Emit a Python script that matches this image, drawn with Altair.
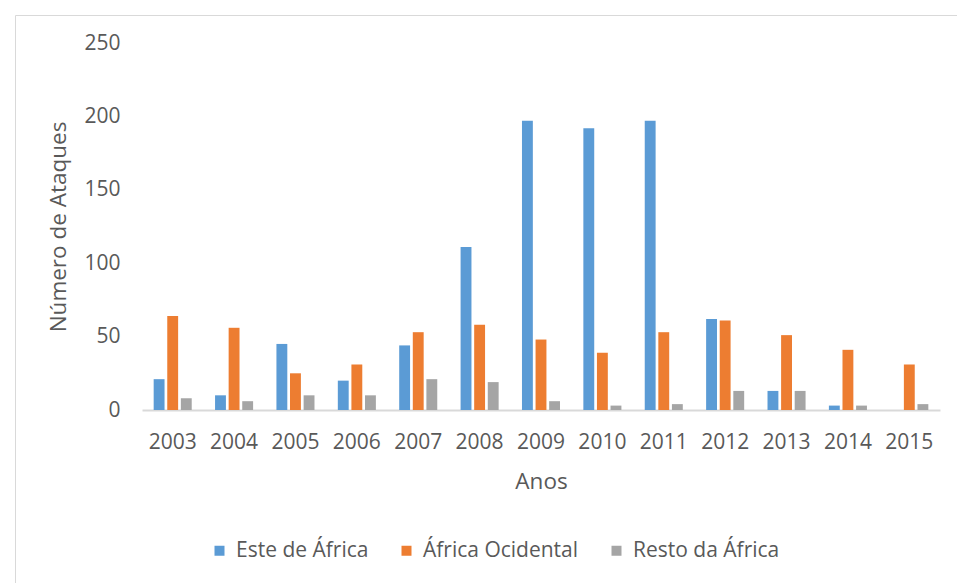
import altair as alt
import pandas as pd

years = ["2003", "2004", "2005", "2006", "2007", "2008", "2009",
         "2010", "2011", "2012", "2013", "2014", "2015"]
este_africa = [21, 10, 45, 20, 44, 111, 197, 192, 197, 62, 13, 3, 0]
africa_ocidental = [64, 56, 25, 31, 53, 58, 48, 39, 53, 61, 51, 41, 31]
resto_africa = [8, 6, 10, 10, 21, 19, 6, 3, 4, 13, 13, 3, 4]

series_names = ["Este de África", "África Ocidental", "Resto da África"]
series_colors = ["#5B9BD5", "#ED7D31", "#A5A5A5"]

rows = []
for name, values in zip(series_names, [este_africa, africa_ocidental, resto_africa]):
    for year, v in zip(years, values):
        rows.append({"Ano": year, "Região": name, "Ataques": v})
df = pd.DataFrame(rows)

FONT = "Open Sans"
TXT = "#595959"

bars = alt.Chart(df).mark_bar().encode(
    x=alt.X(
        "Ano:N",
        sort=years,
        scale=alt.Scale(paddingInner=0.38, paddingOuter=0.19),
        axis=alt.Axis(
            title="Anos",
            labelAngle=0,
            labelFontSize=21,
            labelColor=TXT,
            labelFont=FONT,
            labelPadding=21,
            ticks=False,
            tickSize=0,
            domainColor="#D9D9D9",
            domainWidth=2,
            titleFontSize=22.5,
            titleFont=FONT,
            titleColor=TXT,
            titleFontWeight="normal",
            titleBaseline="alphabetic",
            titleY=78,
        ),
    ),
    xOffset=alt.XOffset(
        "Região:N",
        sort=series_names,
        scale=alt.Scale(paddingInner=0.2, paddingOuter=0),
    ),
    y=alt.Y(
        "Ataques:Q",
        scale=alt.Scale(domain=[0, 250], nice=False),
        axis=alt.Axis(
            title="Número de Ataques",
            values=[0, 50, 100, 150, 200, 250],
            grid=False,
            domain=False,
            ticks=False,
            tickSize=0,
            labelFontSize=21,
            labelColor=TXT,
            labelFont=FONT,
            labelPadding=22,
            titleFontSize=22.5,
            titleFont=FONT,
            titleColor=TXT,
            titleFontWeight="normal",
            titleBaseline="middle",
            titleX=-84,
        ),
    ),
    color=alt.Color(
        "Região:N",
        sort=series_names,
        scale=alt.Scale(domain=series_names, range=series_colors),
        legend=alt.Legend(
            title=None,
            orient="none",
            direction="horizontal",
            columns=3,
            legendX=67,
            legendY=497,
            symbolType="square",
            symbolSize=100,
            symbolStrokeWidth=0,
            labelFontSize=21,
            labelFont=FONT,
            labelColor=TXT,
            labelOffset=6,
            columnPadding=27,
            padding=0,
        ),
    ),
)

# light frame around the whole figure
frame = alt.Chart(pd.DataFrame({"k": [0]})).mark_rect(
    fill=None, stroke="#D9D9D9", strokeWidth=1
).encode(
    x=alt.value(-126.5),
    x2=alt.value(900),
    y=alt.value(-27.5),
    y2=alt.value(600),
)

chart = alt.layer(frame, bars).properties(
    width=798,
    height=367,
    autosize=alt.AutoSizeParams(type="none"),
    padding={"left": 142, "top": 43, "right": 17, "bottom": 173},
    background="white",
).configure_view(stroke=None)

chart.save("out.html", embed_options={"renderer": "svg", "actions": False})
